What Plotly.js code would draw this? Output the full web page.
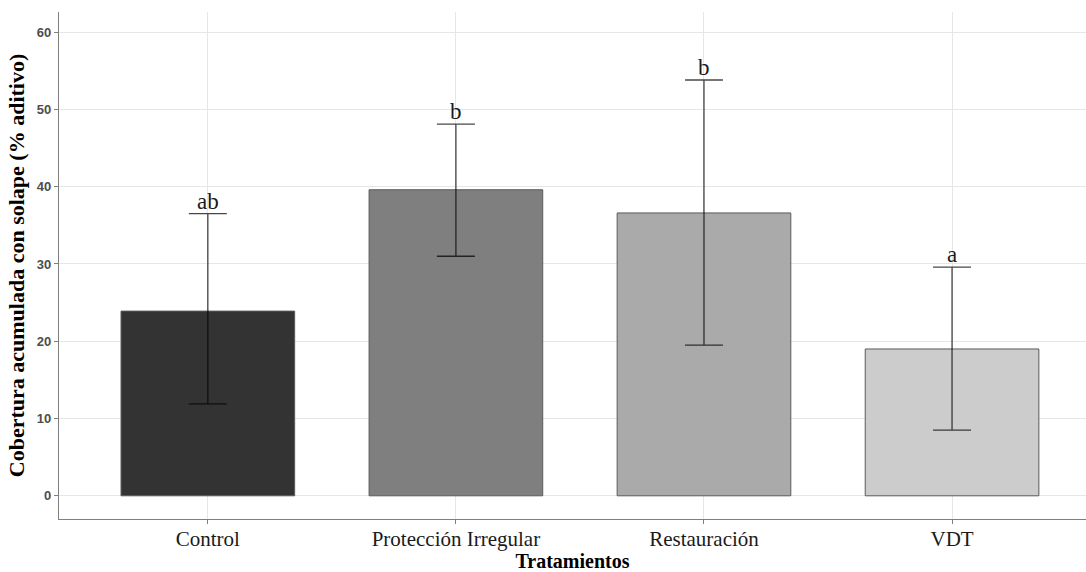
<!DOCTYPE html>
<html>
<head>
<meta charset="utf-8">
<script src="https://cdn.plot.ly/plotly-3.0.1.min.js"></script>
<style>html,body{margin:0;padding:0;background:#fff;}#chart{width:1086px;height:572px;}</style>
</head>
<body>
<div id="chart"></div>
<script>
const categories = ["Control", "Protección Irregular", "Restauración", "VDT"];
const means = [23.9, 39.6, 36.6, 19.0];
const upper = [36.5, 48.1, 53.8, 29.6];
const lower = [11.9, 31.0, 19.5, 8.5];
const letters = ["ab", "b", "b", "a"];
const colors = ["#333333", "#7f7f7f", "#aaaaaa", "#cccccc"];
const yTicks = [0, 10, 20, 30, 40, 50, 60];

const errPlus = means.map((m, i) => upper[i] - m);
const errMinus = means.map((m, i) => m - lower[i]);

const serif = "Liberation Serif, Times New Roman, serif";

const trace = {
  type: "bar",
  x: categories,
  y: means,
  width: 0.7,
  marker: {color: colors, line: {color: "#5a5a5a", width: 1}},
  error_y: {type: "data", symmetric: false, array: errPlus, arrayminus: errMinus,
            color: "rgba(0,0,0,0.72)", thickness: 1.3, width: 19},
  hoverinfo: "skip"
};

const annotations = categories.map((c, i) => ({
  x: c, y: upper[i], xref: "x", yref: "y", text: letters[i], showarrow: false,
  yanchor: "bottom", yshift: -2,
  font: {family: serif, size: 23, color: "#1a1a1a"}
}));

const layout = {
  width: 1086, height: 572,
  margin: {l: 59, r: 0, t: 12, b: 53},
  paper_bgcolor: "#ffffff", plot_bgcolor: "#ffffff",
  showlegend: false,
  xaxis: {
    range: [-0.6, 3.54], showline: true, linecolor: "#7f7f7f", linewidth: 1.2,
    showgrid: true, gridcolor: "#e6e6e6", gridwidth: 1,
    ticks: "outside", ticklen: 4, tickcolor: "#7f7f7f",
    ticklabelstandoff: -3,
    tickfont: {family: serif, size: 21, color: "#1a1a1a"},
    title: {text: "<b>Tratamientos</b>", standoff: 2,
            font: {family: serif, size: 20, color: "#000"}},
    zeroline: false, fixedrange: true
  },
  yaxis: {
    range: [-3, 62.6], showline: true, linecolor: "#7f7f7f", linewidth: 1.2,
    tickvals: yTicks, ticktext: yTicks.map(String),
    showgrid: true, gridcolor: "#e6e6e6", gridwidth: 1,
    ticks: "outside", ticklen: 4, tickcolor: "#7f7f7f",
    tickfont: {family: "Liberation Sans, Arial, sans-serif", size: 13, color: "#4d4d4d", weight: "bold"},
    title: {text: "<b>Cobertura acumulada con solape (% aditivo)</b>", standoff: 6,
            font: {family: serif, size: 22, color: "#000"}},
    zeroline: false, fixedrange: true
  },
  annotations: annotations
};

Plotly.newPlot("chart", [trace], layout, {displayModeBar: false, staticPlot: true});
</script>
</body>
</html>
